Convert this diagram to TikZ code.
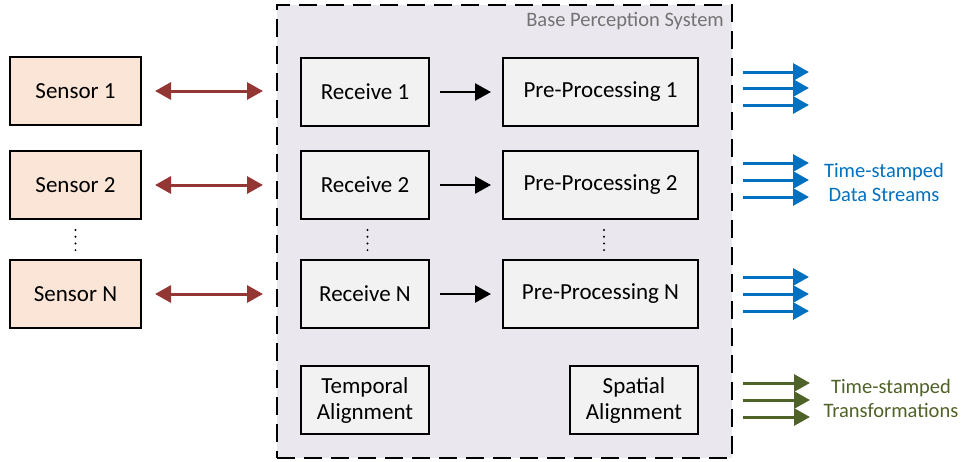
\documentclass[tikz,border=0pt]{standalone}
\usepackage{fontspec}
\setmainfont{Carlito}
\usetikzlibrary{arrows.meta}
\definecolor{sensred}{HTML}{943634}
\definecolor{sensfill}{HTML}{FBE5D6}
\definecolor{boxfill}{HTML}{F2F2F2}
\definecolor{sysfill}{HTML}{EAE7EE}
\definecolor{outblue}{HTML}{0070C0}
\definecolor{outgreen}{HTML}{4F6228}
\tikzset{
  sensorbox/.style={draw=black, line width=2pt, fill=sensfill, minimum width=131pt, minimum height=68pt, inner sep=0pt, font=\fontsize{23}{27}\selectfont},
  recvbox/.style={draw=black, line width=2pt, fill=boxfill, minimum width=128pt, minimum height=68pt, inner sep=0pt, font=\fontsize{23}{27}\selectfont, align=center},
  prebox/.style={draw=black, line width=2pt, fill=boxfill, minimum width=195pt, minimum height=68pt, inner sep=0pt, font=\fontsize{23}{27}\selectfont},
  redarr/.style={draw=sensred, line width=3pt, {Triangle[length=16pt,width=17pt]}-{Triangle[length=16pt,width=17pt]}},
  blkarr/.style={draw=black, line width=2.6pt, -{Triangle[length=16pt,width=17pt]}},
  bluarr/.style={draw=outblue, line width=3pt, -{Triangle[length=16pt,width=17pt]}},
  grnarr/.style={draw=outgreen, line width=3pt, -{Triangle[length=16pt,width=17pt]}},
  dotcol/.style={draw=black, line width=2.2pt, line cap=round, dash pattern=on 0pt off 6.7pt}
}
\begin{document}
\begin{tikzpicture}[x=1pt,y=-1pt]
\useasboundingbox (0,0) rectangle (962,461);
% system container
\node[draw=black, fill=sysfill, line width=2.6pt, dash pattern=on 18pt off 9pt, minimum width=455pt, minimum height=453pt, inner sep=0pt] (sys) at (504.5,231.5) {};
\node[anchor=east, text=black!55, font=\fontsize{20.5}{24}\selectfont, inner sep=0pt] (syslabel) at (724,21) {Base Perception System};
% sensors
\node[sensorbox] (s1) at (75.5,91) {Sensor 1};
\node[sensorbox] (s2) at (75.5,185) {Sensor 2};
\node[sensorbox] (sn) at (75.5,294) {Sensor N};
% receive
\node[recvbox] (r1) at (365,92) {Receive 1};
\node[recvbox] (r2) at (365,185) {Receive 2};
\node[recvbox] (rn) at (365,294) {Receive N};
% preprocessing
\node[prebox] (p1) at (600.5,92) {Pre-Processing 1};
\node[prebox] (p2) at (600.5,185) {Pre-Processing 2};
\node[prebox] (pn) at (600.5,294) {Pre-Processing N};
% vertical dots
\coordinate (sdt) at (75.5,230); \coordinate (sdb) at (75.5,251);
\coordinate (rdt) at (367.5,230); \coordinate (rdb) at (367.5,251);
\coordinate (pdt) at (604,230); \coordinate (pdb) at (604,251);
\draw[dotcol] (sdt) -- (sdb);
\draw[dotcol] (rdt) -- (rdb);
\draw[dotcol] (pdt) -- (pdb);
% alignment
\node[recvbox] (ta) at (365,400) {Temporal\\[-1pt]Alignment};
\node[recvbox] (sa) at (634,400) {Spatial\\[-1pt]Alignment};
% sensor links
\coordinate (a1l) at (155,91); \coordinate (a1r) at (263,91);
\coordinate (a2l) at (155,185); \coordinate (a2r) at (263,185);
\coordinate (anl) at (155,294); \coordinate (anr) at (263,294);
\draw[redarr] (a1l) -- (a1r);
\draw[redarr] (a2l) -- (a2r);
\draw[redarr] (anl) -- (anr);
% receive -> preprocessing
\coordinate (b1l) at (440,92); \coordinate (b1r) at (491,92);
\coordinate (b2l) at (440,185); \coordinate (b2r) at (491,185);
\coordinate (bnl) at (440,294); \coordinate (bnr) at (491,294);
\draw[blkarr] (b1l) -- (b1r);
\draw[blkarr] (b2l) -- (b2r);
\draw[blkarr] (bnl) -- (bnr);
% blue outputs
\foreach \y [count=\i] in {72,88,105,163,180,197,277,294,311}{
  \coordinate (o\i l) at (743,\y);
  \coordinate (o\i r) at (809,\y);
  \draw[bluarr] (o\i l) -- (o\i r);
}
\node[text=outblue, align=center, font=\fontsize{20.5}{24}\selectfont, inner sep=0pt] (dslabel) at (884,182) {Time-stamped\\Data Streams};
% green outputs
\foreach \y [count=\i] in {383,400,417}{
  \coordinate (g\i l) at (743,\y);
  \coordinate (g\i r) at (810,\y);
  \draw[grnarr] (g\i l) -- (g\i r);
}
\node[text=outgreen, align=center, font=\fontsize{20.5}{24}\selectfont, inner sep=0pt] (trlabel) at (891,398) {Time-stamped\\Transformations};
\end{tikzpicture}
\end{document}
